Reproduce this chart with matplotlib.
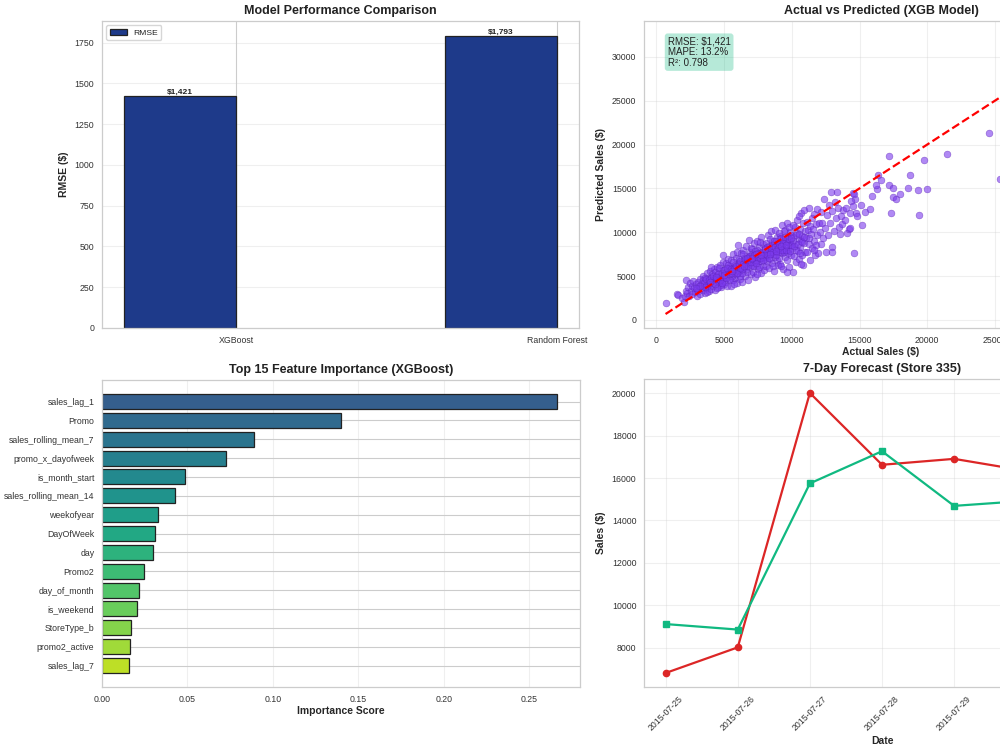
import matplotlib
matplotlib.use("Agg")
import matplotlib.pyplot as plt
import seaborn as sns
import numpy as np

sns.set_style("whitegrid")
plt.rcParams['font.family'] = ['Liberation Sans', 'DejaVu Sans']
plt.rcParams['axes.linewidth'] = 0.9
plt.rcParams['grid.linewidth'] = 0.8
plt.rcParams['text.color'] = '#222222'
plt.rcParams['xtick.color'] = '#333333'
plt.rcParams['ytick.color'] = '#333333'

# ---------------- data ----------------
models = ["XGBoost", "Random Forest"]
rmse_values = [1421, 1793]

actual_sales = [
    670, 1480, 1560, 1900, 2010, 2080, 2150, 2200, 2280, 2350, 2420, 2480, 2550, 2600, 2650, 2720, 2780, 2850, 2900, 2960, 2990,
    3050, 3100, 3150, 3200, 3250, 3300, 3350, 3400, 3450, 3500, 3550, 3600, 3650, 3700, 3750, 3800, 3850, 3900, 3950, 3980, 3420, 3620, 3820, 3720,
    4020, 4080, 4120, 4180, 4230, 4280, 4330, 4380, 4420, 4470, 4520, 4560, 4610, 4660, 4700, 4750, 4800, 4850, 4880, 4930, 4960, 4990, 4150, 4350, 4550, 4750, 4900, 4450, 4650, 4250, 4050, 4950,
    5030, 5080, 5120, 5170, 5220, 5260, 5310, 5350, 5400, 5450, 5500, 5540, 5590, 5630, 5680, 5720, 5770, 5810, 5860, 5900, 5950, 5990, 5150, 5350, 5550, 5750, 5850, 5250, 5450, 5650, 5950, 5050, 5700,
    6030, 6070, 6120, 6160, 6210, 6250, 6300, 6340, 6390, 6430, 6480, 6520, 6570, 6610, 6660, 6700, 6750, 6790, 6840, 6880, 6930, 6970, 6100, 6280, 6460, 6640, 6820, 6200, 6400, 6600, 6800, 6950, 6350, 6750, 6050,
    7020, 7070, 7110, 7160, 7200, 7250, 7300, 7340, 7390, 7430, 7480, 7520, 7570, 7610, 7660, 7700, 7750, 7790, 7840, 7880, 7930, 7970, 7150, 7350, 7550, 7750, 7950, 7050, 7450, 7650, 7850, 7250, 7600, 7400,
    8030, 8070, 8120, 8160, 8210, 8250, 8300, 8340, 8390, 8430, 8480, 8520, 8570, 8610, 8660, 8700, 8750, 8790, 8840, 8880, 8930, 8970, 8100, 8300, 8500, 8700, 8900, 8200, 8400, 8600, 8800, 8950, 8550,
    9020, 9060, 9110, 9150, 9200, 9250, 9290, 9340, 9380, 9430, 9470, 9520, 9560, 9610, 9650, 9700, 9740, 9790, 9830, 9880, 9920, 9970, 9100, 9300, 9500, 9700, 9900, 9200, 9400, 9600, 9800, 9050, 9650, 9450,
    10030, 10080, 10120, 10170, 10220, 10260, 10310, 10360, 10400, 10450, 10500, 10540, 10590, 10630, 10680, 10720, 10770, 10810, 10860, 10900, 10950, 10990, 10100, 10300, 10500, 10700, 10900, 10650,
    11040, 11090, 11130, 11180, 11230, 11270, 11320, 11370, 11420, 11460, 11510, 11560, 11600, 11650, 11700, 11750, 11790, 11840, 11890, 11940, 11980, 11300, 11600,
    12050, 12120, 12180, 12250, 12330, 12400, 12480, 12550, 12630, 12700, 12780, 12850, 12960, 12960, 12900, 13000, 13100, 13190, 13250, 13330, 13400, 13480, 13550, 13650, 13700,
    13800, 13900, 14000, 14100, 14200, 14300, 14520, 14670, 14590, 14740, 14400, 14800, 14520, 14590, 14300, 15110, 15190, 15410, 15780, 15930, 16300, 16220, 16370, 16600,
    17190, 17190, 17330, 17480, 17480, 17700, 18000, 18590, 18740, 19330, 19410, 19780, 20000, 21480, 24590, 25400, 32500,
    3520, 3680, 3880, 4040, 4140, 4290, 4410, 4530, 4680, 4820, 4870, 5010, 5110, 5210, 5330, 5480, 5610, 5740, 5880, 5970,
    6060, 6180, 6310, 6420, 6540, 6680, 6770, 6890, 6990, 7080, 7190, 7320, 7410, 7530, 7680, 7760, 7890, 7990, 8060, 8180,
    8280, 8360, 8460, 8590, 8680, 8770, 8860, 8990, 9080, 9170, 9270, 9360, 9480, 9580, 9680, 9760, 9860, 9960, 10060, 10190,
    10280, 10420, 10560, 10610, 10760, 10880, 6150, 6490, 6720, 7020, 7360, 7720, 8040, 8420, 8810, 9230, 9540, 9940, 5020, 5560,
    4380, 3980, 3580, 3240, 2890,
]
predicted_sales = [
    1900, 2960, 2880, 2450, 2080, 2750, 3350, 4560, 3050, 3800, 2700, 4200, 3350, 3900, 2900, 4450, 3600, 3150, 4100, 3500, 2700,
    4300, 3300, 3900, 4700, 3000, 3600, 4200, 5000, 3400, 3900, 4500, 3100, 4000, 5400, 3600, 4400, 3300, 4800, 4100, 5600, 4600, 4800, 3900, 3200,
    3500, 4500, 5200, 3900, 4800, 5800, 3400, 4300, 5000, 6000, 3800, 4700, 5400, 4200, 6300, 5000, 3700, 4500, 5700, 6600, 4100, 5200, 4200, 5500, 4400, 4000, 4800, 3600, 5900, 4500, 6000, 7400,
    5800, 4300, 6500, 5100, 3900, 5600, 7000, 4700, 6200, 5300, 3900, 6800, 5900, 4500, 7500, 5400, 6300, 4800, 7100, 5700, 4200, 6500, 5500, 5900, 5000, 6000, 5200, 6300, 4600, 6600, 7800, 4900, 4100,
    5300, 7000, 6100, 4700, 7600, 5700, 6600, 4300, 8000, 5900, 7100, 5000, 6400, 8400, 5500, 7300, 4600, 6800, 9100, 6000, 7700, 5200, 5600, 6300, 6700, 6100, 6500, 5000, 7500, 5800, 7200, 8200, 5400, 7000, 8500,
    6300, 8100, 5500, 7000, 8800, 6600, 4900, 7500, 6100, 9000, 7000, 5800, 8300, 6700, 7600, 5300, 9400, 7100, 6200, 8700, 7800, 5700, 6200, 6800, 7300, 6700, 7200, 7500, 8000, 8900, 7400, 7900, 6000, 5200,
    6900, 8800, 6100, 7800, 9700, 7300, 5900, 8400, 7000, 10100, 7900, 6500, 9000, 7500, 5600, 8600, 7200, 10200, 8100, 6800, 9400, 7700, 7400, 8000, 8500, 7900, 8700, 6700, 9200, 6200, 9000, 6300, 8100,
    8300, 7100, 9600, 6400, 8800, 10800, 7600, 9200, 5800, 8000, 10300, 7200, 8700, 11000, 6800, 9400, 8000, 6000, 10000, 8500, 7400, 9700, 7800, 8500, 9000, 7600, 9100, 6100, 10100, 8300, 10600, 9900, 5500, 7700,
    8200, 5500, 9500, 7300, 10600, 8700, 6600, 9900, 11400, 7900, 9200, 6900, 10400, 8300, 12200, 7400, 9600, 11000, 6300, 8800, 10100, 7700, 10800, 8000, 11800, 9000, 12500, 6400,
    9300, 11200, 7700, 10200, 12800, 8700, 10700, 6800, 9800, 11600, 8200, 10400, 12100, 9000, 7400, 10900, 8500, 12600, 9700, 7600, 11000, 9300, 8000,
    10000, 12300, 8600, 11100, 9300, 13800, 10500, 7800, 12000, 9700, 13100, 11000, 8300, 7750, 14600, 12400, 10100, 13450, 11600, 14590, 12800, 10600, 9800, 11900, 10900,
    12500, 11400, 12800, 9900, 10400, 12200, 14480, 13800, 7640, 12200, 13600, 11800, 13000, 14370, 10490, 13110, 10830, 12310, 12650, 14140, 14940, 15390, 16530, 15960,
    18700, 15390, 12200, 15050, 14030, 13800, 14370, 15050, 16530, 14820, 11970, 18240, 14940, 18930, 21320, 16080, 22500,
    4250, 4650, 4550, 4750, 4950, 4150, 4650, 5250, 4550, 5350, 4250, 5650, 4750, 5950, 5250, 5750, 5350, 5850, 6150, 5350,
    6350, 6750, 5750, 6350, 6950, 6650, 6150, 7250, 6650, 6950, 7350, 6450, 7150, 7650, 7050, 7750, 6850, 8150, 7550, 8350,
    7050, 7750, 8250, 7750, 8950, 8350, 7450, 8250, 8650, 9350, 7950, 8750, 9450, 7950, 8850, 9250, 7850, 8550, 9050, 8450,
    9650, 8650, 9850, 7650, 8850, 9450, 5950, 6150, 7050, 7050, 7550, 7450, 8050, 7550, 7850, 8450, 8550, 9350, 5150, 5550,
    4850, 4350, 3750, 3850, 3650,
]

features = ["sales_lag_1", "Promo", "sales_rolling_mean_7", "promo_x_dayofweek", "is_month_start",
            "sales_rolling_mean_14", "weekofyear", "DayOfWeek", "day", "Promo2", "day_of_month",
            "is_weekend", "StoreType_b", "promo2_active", "sales_lag_7"]
importance = [0.2664, 0.1398, 0.0888, 0.0724, 0.0486, 0.0425, 0.0328, 0.0313, 0.0297, 0.0245,
              0.0218, 0.0205, 0.0171, 0.0164, 0.0160]

dates = ["2015-07-25", "2015-07-26", "2015-07-27", "2015-07-28", "2015-07-29", "2015-07-30", "2015-07-31"]
actual_7d = [6800, 8010, 20020, 16630, 16910, 16340, 15600]
forecast_7d = [9110, 8850, 15750, 17270, 14690, 14930, 14500]

# ---------------- figure ----------------
fig = plt.figure(figsize=(10, 7.5), dpi=100)
TICK = 6.3
LAB = 7.5
TIT = 9

# Top-left: model comparison
ax1 = fig.add_axes([0.102, 0.5627, 0.477, 0.4093])
x = np.arange(len(models))
width = 0.35
bars = ax1.bar(x - width / 2, rmse_values, width, label="RMSE", color="#1e3a8a",
               edgecolor="#222222", linewidth=0.9)
for b, v in zip(bars, rmse_values):
    ax1.text(b.get_x() + b.get_width() / 2, b.get_height(), f"${v:,.0f}",
             ha="center", va="bottom", fontsize=6, fontweight="bold")
ax1.set_xticks(x)
ax1.set_xticklabels(models)
ax1.set_ylabel("RMSE ($)", fontsize=LAB, fontweight="bold")
ax1.set_title("Model Performance Comparison", fontsize=TIT, fontweight="bold", pad=5)
ax1.legend(loc="upper left", fontsize=6.1, frameon=True)
ax1.grid(axis="y", alpha=0.3)
ax1.tick_params(labelsize=TICK, pad=2)

# Top-right: actual vs predicted
ax2 = fig.add_axes([0.644, 0.5627, 0.474, 0.4093])
ax2.scatter(actual_sales, predicted_sales, s=24, alpha=0.6, c="#7c3aed",
            edgecolors="#5b21b6", linewidths=0.4)
lo, hi = min(actual_sales), max(actual_sales)
ax2.plot([lo, hi], [lo, hi], "r--", lw=1.6)
ax2.set_xlabel("Actual Sales ($)", fontsize=LAB, fontweight="bold", labelpad=2)
ax2.set_ylabel("Predicted Sales ($)", fontsize=LAB, fontweight="bold")
ax2.set_title("Actual vs Predicted (XGB Model)", fontsize=TIT, fontweight="bold", pad=5)
ax2.text(0.05, 0.95, "RMSE: $1,421\nMAPE: 13.2%\nR²: 0.798", transform=ax2.transAxes,
         fontsize=7, va="top", linespacing=1.1,
         bbox=dict(boxstyle="round,pad=0.3", facecolor="#10b981", alpha=0.3, edgecolor="none"))
ax2.grid(alpha=0.3)
ax2.tick_params(labelsize=TICK, pad=2)

# Bottom-left: feature importance
ax3 = fig.add_axes([0.102, 0.084, 0.478, 0.4093])
colors = plt.cm.viridis(np.linspace(0.3, 0.9, len(features)))
ax3.barh(features, importance, color=colors, edgecolor="#222222", linewidth=0.9, height=0.8)
ax3.invert_yaxis()
ax3.set_xlabel("Importance Score", fontsize=LAB, fontweight="bold", labelpad=2)
ax3.set_title("Top 15 Feature Importance (XGBoost)", fontsize=TIT, fontweight="bold", pad=5)
ax3.grid(axis="x", alpha=0.3)
ax3.tick_params(labelsize=TICK, pad=2)

# Bottom-right: 7-day forecast
ax4 = fig.add_axes([0.644, 0.084, 0.476, 0.4107])
ax4.plot(dates, actual_7d, color="#dc2626", marker="o", lw=1.6, ms=4.5, label="Actual")
ax4.plot(dates, forecast_7d, color="#10b981", marker="s", lw=1.6, ms=4.5, label="Forecast")
ax4.set_xlabel("Date", fontsize=LAB, fontweight="bold", labelpad=2)
ax4.set_ylabel("Sales ($)", fontsize=LAB, fontweight="bold")
ax4.set_title("7-Day Forecast (Store 335)", fontsize=TIT, fontweight="bold", pad=5)
ax4.grid(alpha=0.3)
ax4.tick_params(labelsize=TICK, pad=2)
plt.setp(ax4.get_xticklabels(), rotation=45)

fig.savefig("out.png", dpi=100)
